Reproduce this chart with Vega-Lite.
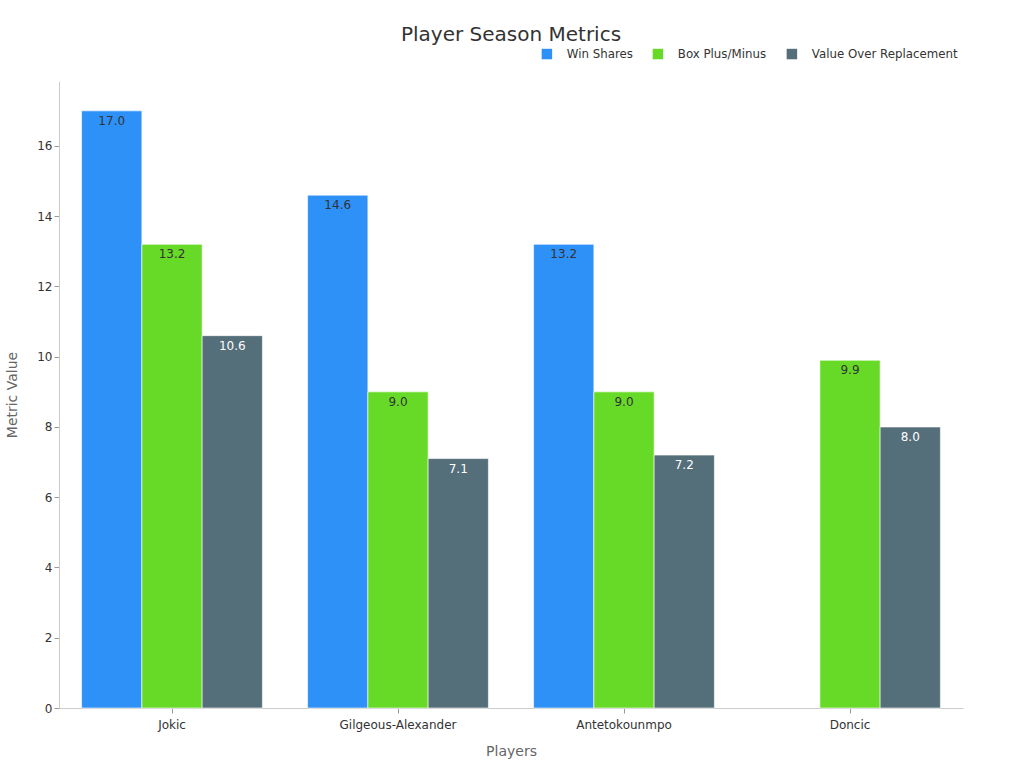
{
  "$schema": "https://vega.github.io/schema/vega-lite/v6.json",
  "autosize": {"type": "none"},
  "width": 904,
  "height": 627,
  "padding": {"left": 59, "top": 81, "right": 61, "bottom": 60},
  "background": "white",
  "config": {
    "font": "DejaVu Sans",
    "view": {"stroke": null},
    "axis": {"grid": false, "domainColor": "#cccccc", "tickColor": "#999999", "labelColor": "#333333", "labelFontSize": 12, "titleColor": "#666666", "titleFontSize": 14, "titleFontWeight": "normal"}
  },
  "title": {"text": "Player Season Metrics", "fontSize": 20, "fontWeight": "normal", "color": "#333333", "anchor": "middle", "offset": 3},
  "data": {
    "values": [
      {"player": "Jokic", "metric": "Win Shares", "value": 17.0},
      {"player": "Jokic", "metric": "Box Plus/Minus", "value": 13.2},
      {"player": "Jokic", "metric": "Value Over Replacement", "value": 10.6},
      {"player": "Gilgeous-Alexander", "metric": "Win Shares", "value": 14.6},
      {"player": "Gilgeous-Alexander", "metric": "Box Plus/Minus", "value": 9.0},
      {"player": "Gilgeous-Alexander", "metric": "Value Over Replacement", "value": 7.1},
      {"player": "Antetokounmpo", "metric": "Win Shares", "value": 13.2},
      {"player": "Antetokounmpo", "metric": "Box Plus/Minus", "value": 9.0},
      {"player": "Antetokounmpo", "metric": "Value Over Replacement", "value": 7.2},
      {"player": "Doncic", "metric": "Box Plus/Minus", "value": 9.9},
      {"player": "Doncic", "metric": "Value Over Replacement", "value": 8.0}
    ]
  },
  "encoding": {
    "x": {
      "field": "player", "type": "nominal",
      "sort": ["Jokic", "Gilgeous-Alexander", "Antetokounmpo", "Doncic"],
      "scale": {"paddingInner": 0.2, "paddingOuter": 0.1},
      "axis": {"title": "Players", "labelAngle": 0, "titlePadding": 14, "labelPadding": 6}
    },
    "xOffset": {
      "field": "metric", "type": "nominal",
      "sort": ["Win Shares", "Box Plus/Minus", "Value Over Replacement"],
      "scale": {"domain": ["Win Shares", "Box Plus/Minus", "Value Over Replacement"], "paddingInner": 0, "paddingOuter": 0}
    },
    "y": {
      "field": "value", "type": "quantitative",
      "scale": {"domain": [0, 17.85], "nice": false},
      "axis": {"title": "Metric Value", "values": [0, 2, 4, 6, 8, 10, 12, 14, 16], "titlePadding": 17}
    }
  },
  "layer": [
    {
      "mark": {"type": "bar", "stroke": "#ffffff", "strokeWidth": 1, "strokeOpacity": 0.6},
      "encoding": {
        "color": {
          "field": "metric", "type": "nominal",
          "scale": {"domain": ["Win Shares", "Box Plus/Minus", "Value Over Replacement"], "range": ["#2E91F7", "#66DA26", "#546E7A"]},
          "legend": {
            "title": null, "orient": "none", "direction": "horizontal",
            "legendX": 482, "legendY": -33,
            "symbolType": "square", "symbolSize": 110, "symbolStrokeWidth": 0,
            "labelFontSize": 11.8, "labelColor": "#333333", "labelOffset": 14, "columnPadding": 19
          }
        }
      }
    },
    {
      "mark": {"type": "text", "baseline": "top", "dy": 5, "fontSize": 12},
      "encoding": {
        "text": {"field": "value", "type": "quantitative", "format": ".1f"},
        "color": {
          "condition": {"test": "datum.metric === 'Value Over Replacement'", "value": "#ffffff"},
          "value": "#333333"
        }
      }
    }
  ]
}
